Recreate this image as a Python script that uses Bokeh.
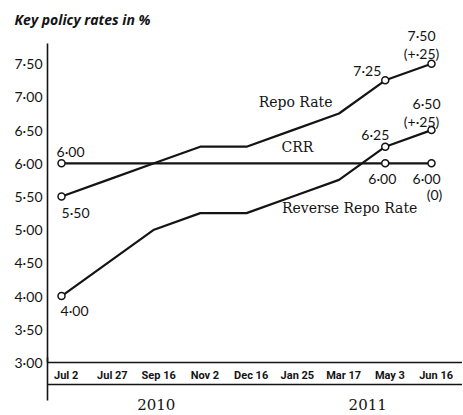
from bokeh.plotting import figure
from bokeh.models import FixedTicker, LinearAxis, Label, Range1d
from bokeh.embed import file_html
from bokeh.resources import INLINE

# ---------------- data ----------------
dates = ["Jul 2", "Jul 27", "Sep 16", "Nov 2", "Dec 16", "Jan 25", "Mar 17", "May 3", "Jun 16"]
repo = [5.50, 5.75, 6.00, 6.25, 6.25, 6.50, 6.75, 7.25, 7.50]
reverse_repo = [4.00, 4.50, 5.00, 5.25, 5.25, 5.50, 5.75, 6.25, 6.50]
crr = [6.00, 6.00, 6.00, 6.00, 6.00, 6.00, 6.00, 6.00, 6.00]
marked = [0, 7, 8]          # dates that carry a circle marker
y_ticks = [3.0, 3.5, 4.0, 4.5, 5.0, 5.5, 6.0, 6.5, 7.0, 7.5]
y_tick_labels = ["3·00", "3·50", "4·00", "4·50", "5·00", "5·50", "6·00", "6·50", "7·00", "7·50"]
years = ["2010", "2011"]
year_pos = [2.05, 6.62]     # where each year label sits along the date axis


def fmt(v):
    return f"{v:.2f}".replace(".", "·")


def fmt_change(d):
    if abs(d) < 1e-9:
        return "(0)"
    sign = "+" if d > 0 else "−"
    return "(" + sign + f"{abs(d):.2f}".lstrip("0").replace(".", "·") + ")"


xs = list(range(len(dates)))
X0, X1 = -0.303, 8.67
Y0, Y1 = 3.0, 8.03
AXIS_TOP = 7.80
EDGE = X0 + 0.004

p = figure(width=462, height=414, output_backend="svg", toolbar_location=None,
           x_range=Range1d(X0, X1), y_range=Range1d(Y0, Y1),
           min_border_left=47, min_border_right=0, min_border_top=28, min_border_bottom=52)
p.outline_line_color = None
p.grid.visible = False
p.background_fill_color = "white"
p.border_fill_color = "white"

INK = "#141414"
NUM_FONT = "Lato"
SERIF = "DejaVu Serif"

# ---- title ----
p.title.text = "Key policy rates in %"
p.title.text_font = "Open Sans"
p.title.text_font_style = "bold italic"
p.title.text_font_size = "14px"
p.title.text_color = INK
p.title.align = "left"
p.title.offset = -33
p.title.standoff = 0

# ---- y axis ----
ya = p.yaxis[0]
ya.bounds = (Y0, AXIS_TOP)
ya.ticker = FixedTicker(ticks=y_ticks)
ya.major_label_overrides = dict(zip(y_ticks, y_tick_labels))
ya.axis_line_color = INK
ya.axis_line_width = 1.6
ya.major_tick_out = 0
ya.major_tick_in = 0
ya.minor_tick_line_color = None
ya.major_label_standoff = 5
ya.major_label_text_font = NUM_FONT
ya.major_label_text_font_size = "14px"
ya.major_label_text_color = INK

# ---- x axis: date band ----
tick_pos = [round(i + 0.1, 2) for i in xs]
xa = p.xaxis[0]
xa.ticker = FixedTicker(ticks=tick_pos, minor_ticks=[])
xa.major_label_overrides = dict(zip(tick_pos, dates))
xa.axis_line_color = INK
xa.axis_line_width = 1.6
xa.major_tick_out = 6
xa.major_tick_in = 0
xa.major_tick_line_color = None
xa.minor_tick_out = 0
xa.minor_tick_in = 0
xa.minor_tick_line_color = None
xa.major_label_standoff = 0
xa.major_label_text_font = "Roboto"
xa.major_label_text_font_style = "bold"
xa.major_label_text_font_size = "11px"
xa.major_label_text_color = INK

spacer = LinearAxis(ticker=FixedTicker(ticks=[], minor_ticks=[]),
                    axis_line_color=None, major_tick_out=8, major_tick_in=0,
                    major_tick_line_color=None, minor_tick_out=0, minor_tick_in=0,
                    minor_tick_line_color=None, major_label_standoff=0)
p.add_layout(spacer, "below")

year_axis = LinearAxis(ticker=FixedTicker(ticks=year_pos, minor_ticks=[EDGE]),
                       major_label_overrides=dict(zip(year_pos, years)),
                       axis_line_color=INK, axis_line_width=1.6,
                       major_tick_out=0, major_tick_in=0, major_tick_line_color=None,
                       minor_tick_out=16, minor_tick_in=27, minor_tick_line_color=INK,
                       minor_tick_line_width=1.6, major_label_standoff=-2,
                       major_label_text_font=SERIF, major_label_text_font_size="15px",
                       major_label_text_color=INK)
p.add_layout(year_axis, "below")

# ---- lines ----
for series in (repo, crr, reverse_repo):
    p.line(xs, series, line_color=INK, line_width=2.2)
    p.scatter([xs[i] for i in marked], [series[i] for i in marked], size=7,
              marker="circle", fill_color="white", line_color=INK, line_width=1.5)


def add_label(x, y, text, dx, dy, font=NUM_FONT, size="14px"):
    p.add_layout(Label(x=x, y=y, text=text, x_offset=dx, y_offset=dy,
                       text_align="center", text_baseline="middle",
                       text_font=font, text_font_size=size, text_color=INK))


# value annotations
add_label(xs[0], crr[0], fmt(crr[0]), 9, 12)
add_label(xs[0], repo[0], fmt(repo[0]), 14, -16)
add_label(xs[0], reverse_repo[0], fmt(reverse_repo[0]), 13, -14)
add_label(xs[7], repo[7], fmt(repo[7]), -18, 10)
add_label(xs[8], repo[8], fmt(repo[8]), -10, 28)
add_label(xs[8], repo[8], fmt_change(repo[8] - repo[7]), -10, 10)
add_label(xs[7], reverse_repo[7], fmt(reverse_repo[7]), -10, 12)
add_label(xs[8], reverse_repo[8], fmt(reverse_repo[8]), -5, 27)
add_label(xs[8], reverse_repo[8], fmt_change(reverse_repo[8] - reverse_repo[7]), -10, 9)
add_label(xs[7], crr[7], fmt(crr[7]), -3, -15)
add_label(xs[8], crr[8], fmt(crr[8]), -5, -15)
add_label(xs[8], crr[8], fmt_change(crr[8] - crr[7]), 3, -31)

# series names
add_label(5.06, 6.92, "Repo Rate", 0, 0, font=SERIF)
add_label(5.10, 6.24, "CRR", 0, 0, font=SERIF)
add_label(6.23, 5.32, "Reverse Repo Rate", 0, 0, font=SERIF)

open("out.html", "w").write(file_html(p, INLINE))
